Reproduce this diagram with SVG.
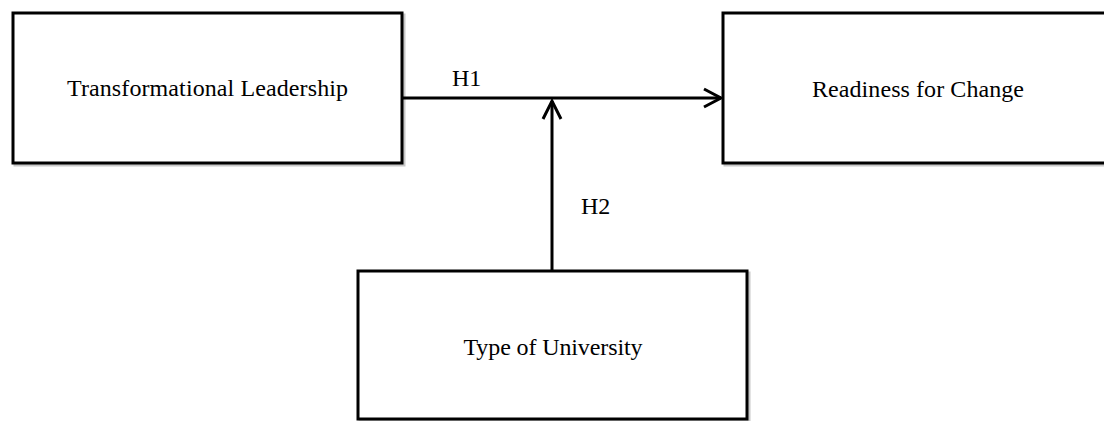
<svg xmlns="http://www.w3.org/2000/svg" width="1104" height="421" viewBox="0 0 1104 421">
<style>
.box{fill:#fff;stroke:#000;stroke-width:3}
.shadow{fill:none;stroke:#c8c8c8;stroke-width:3}
.lbl{font-family:"Liberation Serif","Times New Roman",serif;font-size:24px;fill:#000}
.edge{fill:none;stroke:#000;stroke-width:3}
</style>
<rect width="1104" height="421" fill="#fff"/>
<g id="node-tl">
<rect class="shadow" x="15" y="15" width="389" height="150"/>
<rect class="box" x="13" y="13" width="389" height="150"/>
<text class="lbl" x="207.5" y="96" text-anchor="middle" textLength="281" lengthAdjust="spacing">Transformational Leadership</text>
</g>
<g id="node-rfc">
<rect class="shadow" x="725" y="15" width="400" height="150"/>
<rect class="box" x="723" y="13" width="400" height="150"/>
<text class="lbl" x="918" y="97" text-anchor="middle" textLength="212" lengthAdjust="spacing">Readiness for Change</text>
</g>
<g id="node-tou">
<rect class="shadow" x="360" y="273" width="389" height="148"/>
<rect class="box" x="358" y="271" width="389" height="148"/>
<text class="lbl" x="553" y="355" text-anchor="middle" textLength="179" lengthAdjust="spacing">Type of University</text>
</g>
<g id="connectors">
<line class="edge" x1="402" y1="98" x2="721" y2="98"/>
<polyline class="edge" points="704,89 721,98 704,107"/>
<line class="edge" x1="552" y1="271" x2="552" y2="101"/>
<polyline class="edge" points="543,119 552,101 561,119"/>
<text class="lbl" x="452" y="86">H1</text>
<text class="lbl" x="581" y="214">H2</text>
</g>
</svg>
